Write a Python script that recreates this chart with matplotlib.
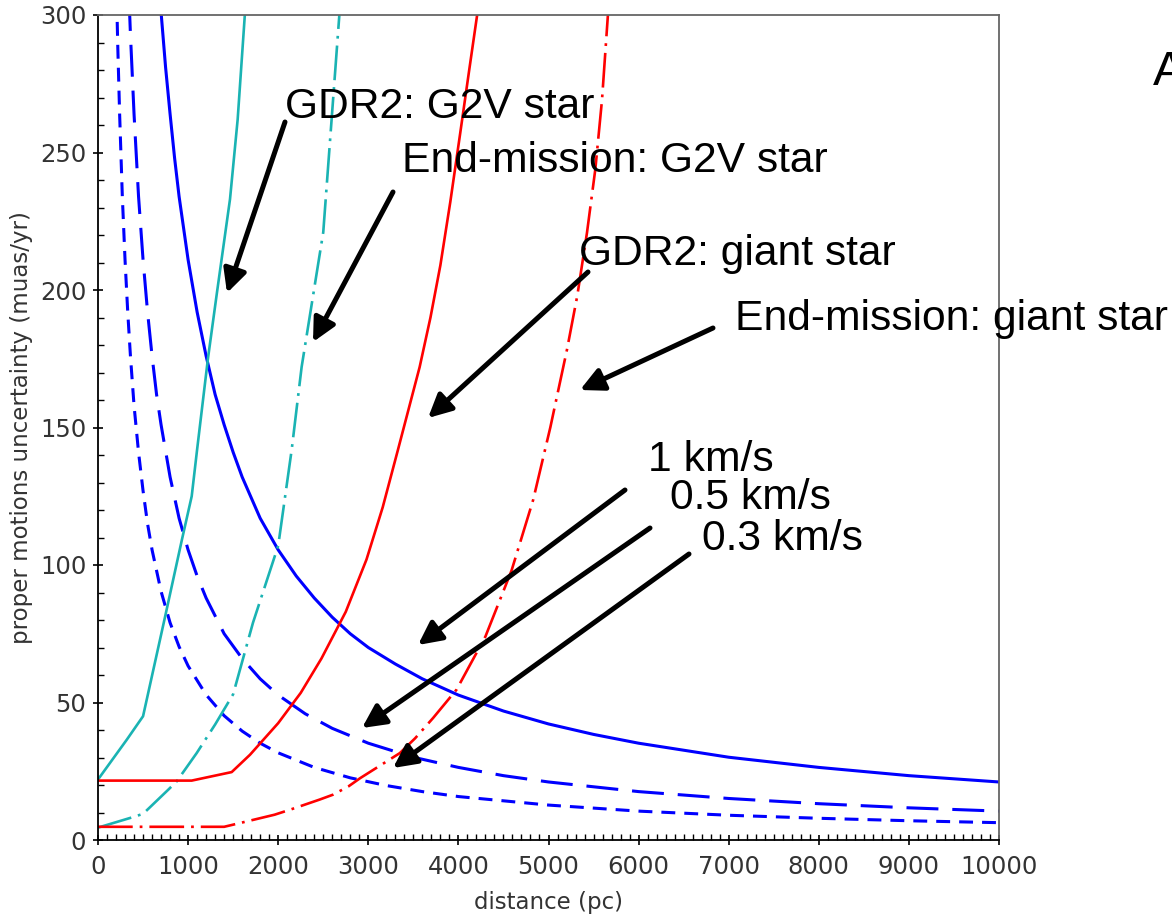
import matplotlib
matplotlib.use("Agg")
import matplotlib.pyplot as plt
from matplotlib.patches import FancyArrowPatch

# ---------------- data ----------------
dist_1kms = [680, 700, 750, 800, 850, 900, 1000, 1100, 1200, 1300, 1400, 1500, 1600,
             1800, 2000, 2200, 2400, 2600, 2800, 3000, 3300, 3600, 4000, 4500, 5000,
             5500, 6000, 7000, 8000, 9000, 10000]
pm_1kms = [310, 301, 281, 264, 248, 234, 211, 192, 176, 162, 151, 141, 132,
           117, 105.5, 96, 88, 81, 75, 70, 64, 58.6, 52.7, 46.9, 42.2,
           38.4, 35.2, 30.1, 26.4, 23.4, 21.1]

dist_05kms = [340, 360, 400, 450, 500, 550, 600, 650, 700, 800, 900, 1000, 1100, 1200,
              1400, 1600, 1800, 2000, 2300, 2600, 3000, 3500, 4000, 4500, 5000, 6000,
              7000, 8000, 9000, 10000]
pm_05kms = [310, 293, 264, 234, 211, 192, 176, 162, 151, 132, 117, 105.5, 96, 88,
            75, 66, 58.6, 52.7, 45.9, 40.6, 35.2, 30.1, 26.4, 23.4, 21.1, 17.6,
            15.1, 13.2, 11.7, 10.5]

dist_03kms = [205, 220, 240, 270, 300, 330, 360, 400, 450, 500, 550, 600, 700, 800, 900,
              1000, 1200, 1400, 1600, 1800, 2000, 2400, 2800, 3200, 3600, 4000, 5000,
              6000, 7000, 8000, 9000, 10000]
pm_03kms = [309, 288, 264, 234, 211, 192, 176, 158, 141, 127, 115, 105.5, 90.4, 79, 70.3,
            63.3, 52.8, 45.2, 39.6, 35.2, 31.7, 26.4, 22.6, 19.8, 17.6, 15.8, 12.7,
            10.5, 9.0, 7.9, 7.0, 6.3]

dist_gdr2_g2v = [0, 320, 500, 750, 930, 1040, 1100, 1220, 1320, 1465, 1550, 1640]
pm_gdr2_g2v = [22, 36.5, 45, 82, 109, 125, 142, 175, 199, 233, 262, 305]

dist_end_g2v = [0, 355, 500, 780, 873, 1095, 1300, 1500, 1720, 2000, 2150, 2260, 2500, 2690]
pm_end_g2v = [4.5, 8, 9.5, 18.3, 21.3, 31.6, 42, 53, 79, 107, 142, 172, 221, 305]

dist_gdr2_giant = [0, 1040, 1484, 1687, 2000, 2250, 2480, 2750, 2980, 3160, 3330,
                   3450, 3570, 3690, 3800, 3910, 4020, 4120, 4230]
pm_gdr2_giant = [21.6, 21.6, 24.7, 31, 42.5, 53.5, 66, 83, 102, 121, 142,
                 157, 172, 190, 209, 232, 257, 280, 305]

dist_end_giant = [0, 1400, 1580, 1960, 2130, 2460, 2610, 2780, 2910, 3350, 3520, 3720,
                  3980, 4300, 4590, 4830, 5020, 5205, 5320, 5427, 5520, 5594, 5670]
pm_end_giant = [4.8, 4.8, 6.2, 9.2, 11, 14.7, 16.5, 19.5, 22.5, 31.6, 37, 44.4,
                54.7, 74, 98, 123.7, 150, 178.3, 198, 220.8, 244, 269.2, 305]

x_ticks = list(range(0, 10001, 1000))
y_ticks = list(range(0, 301, 50))

labels = ["GDR2: G2V star", "End-mission: G2V star", "GDR2: giant star",
          "End-mission: giant star", "1 km/s", "0.5 km/s", "0.3 km/s"]

# ---------------- figure ----------------
W, H = 1172, 915
plt.rcParams['lines.scale_dashes'] = False
fig = plt.figure(figsize=(W / 100, H / 100), dpi=100)
ax = fig.add_axes([98 / W, (H - 840) / H, (999 - 98) / W, (840 - 15) / H])

blue = "#0000ff"
cyan = "#1ab3b3"
red = "#ff0000"

ax.plot(dist_1kms, pm_1kms, color=blue, lw=2.2)
ax.plot(dist_05kms, pm_05kms, color=blue, lw=2.2, linestyle=(0, (23, 10)))
ax.plot(dist_03kms, pm_03kms, color=blue, lw=2.2, linestyle=(0, (10, 6.5)))
ax.plot(dist_gdr2_g2v, pm_gdr2_g2v, color=cyan, lw=1.9)
ax.plot(dist_end_g2v, pm_end_g2v, color=cyan, lw=1.9, linestyle=(0, (25, 5, 2, 5)))
ax.plot(dist_gdr2_giant, pm_gdr2_giant, color=red, lw=1.9)
ax.plot(dist_end_giant, pm_end_giant, color=red, lw=1.9, linestyle=(0, (25, 5, 2, 5)))

ax.set_xlim(0, 10000)
ax.set_ylim(0, 300)
ax.set_xticks(x_ticks)
ax.set_yticks(y_ticks)
ax.set_xticks(range(0, 10001, 100), minor=True)
ax.set_yticks(range(0, 301, 10), minor=True)
ax.tick_params(which='major', direction='inout', length=7, width=1.2, color='black',
               labelsize=17.5, labelcolor='#333333', top=False, right=False)
ax.tick_params(which='minor', direction='in', length=4, width=1.0, color='black',
               top=False, right=False)
ax.tick_params(axis='x', which='major', pad=7)
ax.tick_params(axis='y', which='major', pad=5)

for s in ['left', 'bottom']:
    ax.spines[s].set_color('black')
    ax.spines[s].set_linewidth(1.3)
for s in ['top', 'right']:
    ax.spines[s].set_color('#666666')
    ax.spines[s].set_linewidth(1.3)

ax.set_xlabel("distance (pc)", fontsize=16.5, color='#333333')
ax.set_ylabel("proper motions uncertainty (muas/yr)", fontsize=16.5, color='#333333')
ax.xaxis.set_label_coords(0.5, -0.0618)
ax.yaxis.set_label_coords(-0.072, 0.5)


def px(x, y):
    return (x / W, 1 - y / H)


ann_font = dict(family=["Liberation Sans", "DejaVu Sans"], fontsize=30.7, color='black')
text_pos = [(285, 118), (402, 172), (579, 265), (735, 330), (648, 471), (670, 509), (702, 550)]
arrows = [((285, 122), (227, 293)),
          ((393, 192), (313, 342)),
          ((588, 272), (428, 418)),
          ((713, 328), (580, 390)),
          ((625, 490), (418, 645)),
          ((650, 528), (362, 728)),
          ((689, 554), (393, 768))]

for lab, (tx, ty) in zip(labels, text_pos):
    fig.text(*px(tx, ty), lab, ha='left', va='baseline', zorder=10, **ann_font)

for (s, e) in arrows:
    arr = FancyArrowPatch(px(*s), px(*e), transform=fig.transFigure,
                          arrowstyle="-|>,head_length=14,head_width=7",
                          mutation_scale=1, lw=3.6, color='black',
                          shrinkA=0, shrinkB=0, zorder=10)
    fig.add_artist(arr)

fig.text(*px(1153, 85), "A", ha='left', va='baseline', family=["Liberation Sans", "DejaVu Sans"],
         fontsize=35, color='black')

fig.savefig("out.png", dpi=100)
